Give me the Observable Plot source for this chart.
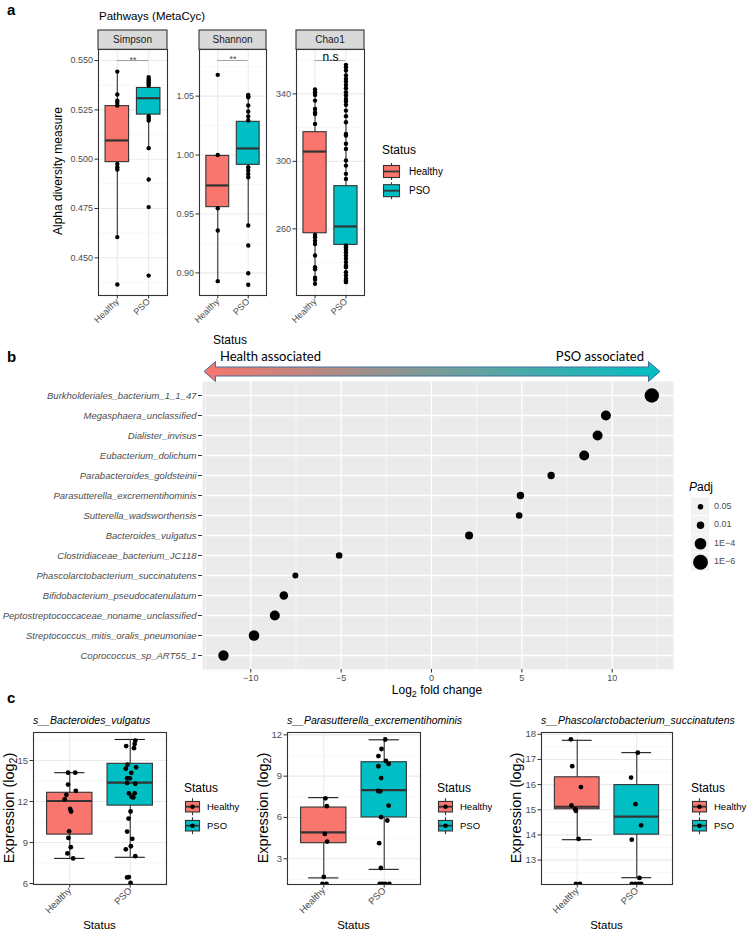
<!DOCTYPE html>
<html><head><meta charset="utf-8">
<script src="https://cdn.jsdelivr.net/npm/d3@7"></script>
<script src="https://cdn.jsdelivr.net/npm/@observablehq/plot@0.6"></script>
<style>
body{margin:0;background:#fff;}
#root{position:relative;width:747px;height:930px;overflow:hidden;background:#fff;}
svg{overflow:visible}
</style></head><body><div id="root"></div>
<script>
const statusCats = ["Healthy", "PSO"];
const statusColors = ["#F8766D", "#00BFC4"];

// ---------- Panel a (box stats: [lower whisker, Q1, median, Q3, upper whisker]) ----------
const simpsonBox = [[0.4605, 0.4985, 0.5095, 0.5269, 0.5444], [0.5056, 0.5226, 0.5309, 0.5361, 0.5416]];
const simpsonHealthy = [0.5444, 0.5328, 0.5297, 0.5286, 0.5272, 0.4976, 0.4959, 0.4948, 0.4605, 0.4365];
const simpsonPSO = [0.5416, 0.5407, 0.5399, 0.5390, 0.5382, 0.5374, 0.5218, 0.5208, 0.5196, 0.5056, 0.4897, 0.4757, 0.4410];
const simpsonTicks = [0.450, 0.475, 0.500, 0.525, 0.550];
const simpsonMinor = [0.4375, 0.4625, 0.4875, 0.5125, 0.5375];

const shannonBox = [[0.8930, 0.9558, 0.9742, 0.9993, 1.0000], [0.9402, 0.9917, 1.0056, 1.0282, 1.0511]];
const shannonHealthy = [1.0681, 1.0000, 0.9549, 0.9360, 0.8930];
const shannonPSO = [1.0511, 1.0500, 1.0490, 1.0421, 1.0370, 1.0327, 1.0293, 0.9897, 0.9870, 0.9840, 0.9812, 0.9402, 0.9232, 0.8997, 0.8899];
const shannonTicks = [0.90, 0.95, 1.00, 1.05];
const shannonMinor = [0.925, 0.975, 1.025, 1.075];

const chao1Box = [[227.4, 257.4, 305.8, 317.3, 342.6], [228.4, 250.5, 261.4, 285.3, 357.2]];
const chao1Healthy = [342.6, 341.0, 339.4, 336.0, 331.0, 329.0, 328.0, 322.2, 256.4, 255.0, 253.0, 251.0, 244.2, 237.3, 236.0, 231.0, 229.8, 227.4];
const chao1PSO = [357.2, 355.8, 353.8, 350.9, 348.9, 347.3, 345.3, 343.4, 341.0, 339.0, 337.0, 335.5, 333.5, 330.1, 326.8, 323.2, 316.3, 315.3, 310.4, 307.4, 300.5, 297.5, 292.6, 289.6, 250.1, 249.1, 247.8, 246.2, 244.2, 242.3, 240.3, 238.3, 237.3, 234.3, 232.3, 230.4, 229.4, 228.4];
const chao1Ticks = [260, 300, 340];
const chao1Minor = [240, 280, 320, 360];

const sigLabels = ["**", "**", "n.s"];
const sigLevels = [0.5500, 1.0803, 359.75];

// ---------- Panel b ----------
const species = ["Burkholderiales_bacterium_1_1_47", "Megasphaera_unclassified", "Dialister_invisus", "Eubacterium_dolichum", "Parabacteroides_goldsteinii", "Parasutterella_excrementihominis", "Sutterella_wadsworthensis", "Bacteroides_vulgatus", "Clostridiaceae_bacterium_JC118", "Phascolarctobacterium_succinatutens", "Bifidobacterium_pseudocatenulatum", "Peptostreptococcaceae_noname_unclassified", "Streptococcus_mitis_oralis_pneumoniae", "Coprococcus_sp_ART55_1"];
const log2FC = [12.19, 9.65, 9.19, 8.45, 6.62, 4.92, 4.85, 2.08, -5.11, -7.53, -8.17, -8.67, -9.82, -11.51];
const negLog10Padj = [5.7, 3.1, 3.1, 3.1, 1.97, 1.97, 1.66, 2.21, 1.66, 1.46, 2.46, 3.1, 3.42, 3.3];
const fcTicks = [-10, -5, 0, 5, 10];
const fcMinor = [-12.5, -7.5, -2.5, 2.5, 7.5, 12.5];
const padjBreaks = [1.301, 2, 4, 6];
const padjLabels = ["0.05", "0.01", "1E\u22124", "1E\u22126"];

// ---------- Panel c ----------
const bvBox = [[7.84, 9.58, 12.04, 12.64, 14.11], [7.92, 11.70, 13.39, 14.76, 16.54]];
const bvHealthy = [14.11, 14.11, 13.24, 12.78, 12.49, 12.16, 11.46, 11.27, 9.82, 9.34, 8.66, 8.20, 7.84];
const bvHealthyJit = [-0.028, 0.09, -0.028, 0.10, -0.056, -0.084, 0.006, 0.022, -0.011, -0.022, 0.017, -0.039, 0.056];
const bvPSO = [16.06, 16.2, 15.9, 16.45, 14.7, 14.4, 14.5, 13.7, 13.7, 14.1, 13.3, 13.35, 12.6, 12.6, 12.35, 12.3, 11.27, 10.75, 9.8, 9.27, 8.5, 8.73, 8.0, 6.47, 6.45, 6.04];
const bvPSOJit = [-0.067, 0.073, 0.062, 0.084, -0.045, -0.073, 0.096, -0.051, -0.006, 0.017, 0.084, -0.051, -0.022, 0.073, 0.022, 0.051, 0.006, -0.028, -0.051, 0.034, -0.073, 0.011, 0.084, -0.022, -0.051, 0.006];
const bvTicks = [6, 9, 12, 15];
const bvMinor = [7.5, 10.5, 13.5, 16.5];

const peBox = [[1.61, 4.13, 4.92, 6.72, 7.44], [2.23, 6.00, 7.99, 10.01, 11.64]];
const peHealthy = [7.39, 6.82, 4.8, 4.25, 1.68, 1.18, 1.18];
const peHealthyJit = [0.028, 0.051, 0.017, 0.056, 0, -0.022, 0.045];
const pePSO = [11.66, 10.97, 10.46, 10.1, 9.89, 9.72, 8.86, 7.92, 7.9, 6.86, 6.02, 5.78, 4.13, 2.33, 1.18, 1.18, 1.18, 1.18];
const pePSOJit = [0.017, -0.045, -0.096, 0.028, 0.073, -0.096, -0.051, -0.101, -0.067, 0.073, -0.051, 0.051, -0.084, -0.056, -0.073, -0.028, 0.017, 0.084];
const peTicks = [3, 6, 9, 12];
const peMinor = [1.5, 4.5, 7.5, 10.5];

const psBox = [[13.81, 15.02, 15.12, 16.29, 17.76], [12.30, 14.01, 14.73, 15.98, 17.27]];
const psHealthy = [17.8, 16.73, 15.9, 15.17, 15.02, 14.96, 13.84, 12.05, 12.05];
const psHealthyJit = [-0.107, -0.084, 0.062, -0.096, -0.034, -0.022, 0.022, -0.022, 0.045];
const psPSO = [17.27, 16.28, 15.22, 14.38, 13.81, 12.29, 12.05, 12.05, 12.05, 12.05];
const psPSOJit = [0.017, -0.096, -0.022, 0.073, -0.084, 0.045, -0.084, -0.028, 0.028, 0.073];
const psTicks = [13, 14, 15, 16, 17, 18];
const psMinor = [12.5, 13.5, 14.5, 15.5, 16.5, 17.5];

// ---------- drawing ----------
const FONT = "'Liberation Sans', Arial, Helvetica, sans-serif";
const root = document.getElementById("root");
function place(node, left, top) {
  node.style.position = "absolute";
  node.style.left = left + "px";
  node.style.top = top + "px";
  root.appendChild(node);
}

function boxPanel(o) {
  const boxes = o.box.map((b, i) => ({x: i + 1, lo: b[0], q1: b[1], med: b[2], q3: b[3], hi: b[4], status: statusCats[i]}));
  const pts = [
    ...o.h.map((v, i) => ({x: 1 + (o.jh ? o.jh[i] : 0), y: v})),
    ...o.p.map((v, i) => ({x: 2 + (o.jp ? o.jp[i] : 0), y: v}))
  ];
  const marks = [
    Plot.ruleY(o.minor, {stroke: "#F2F2F2", strokeWidth: 0.6}),
    Plot.ruleY(o.ticks, {stroke: "#EBEBEB", strokeWidth: 1.1}),
    Plot.ruleX([1, 2], {stroke: "#EBEBEB", strokeWidth: 1.1})
  ];
  if (o.caps) {
    marks.push(Plot.ruleY(boxes, {y: "lo", x1: d => d.x - 0.25, x2: d => d.x + 0.25, stroke: "#1a1a1a", strokeWidth: 1.1}));
    marks.push(Plot.ruleY(boxes, {y: "hi", x1: d => d.x - 0.25, x2: d => d.x + 0.25, stroke: "#1a1a1a", strokeWidth: 1.1}));
  }
  marks.push(
    Plot.ruleX(boxes, {x: "x", y1: "lo", y2: "hi", stroke: "#333", strokeWidth: 1.1}),
    Plot.rect(boxes, {x1: d => d.x - 0.375, x2: d => d.x + 0.375, y1: "q1", y2: "q3", fill: "status", stroke: "#333", strokeWidth: 1.1}),
    Plot.ruleY(boxes, {y: "med", x1: d => d.x - 0.375, x2: d => d.x + 0.375, stroke: "#333", strokeWidth: 2.2}),
    Plot.dot(pts, {x: "x", y: "y", r: o.r, fill: "black", clip: true})
  );
  if (o.sig) {
    marks.push(Plot.ruleY([o.sig.y], {x1: 1, x2: 2, stroke: "#8c8c8c", strokeWidth: 0.8}));
    marks.push(Plot.text([o.sig.label], {x: 1.5, y: o.sig.y, text: d => d, fontSize: o.sig.fs, fill: o.sig.color, lineAnchor: "bottom", dy: o.sig.dy}));
  }
  marks.push(
    Plot.frame({stroke: "#333", strokeWidth: 1.1}),
    Plot.axisY(o.ticks, {tickSize: 3.5, tickPadding: 2, fontSize: o.fs, stroke: "#333", fill: "#4D4D4D", tickFormat: o.fmt, label: null}),
    Plot.axisX([1, 2], {tickSize: 3.5, tickPadding: 1, tickRotate: -45, fontSize: o.fs, stroke: "#333", fill: "#4D4D4D", tickFormat: d => statusCats[d - 1], label: null})
  );
  const svg = Plot.plot({
    width: o.width, height: o.height,
    marginLeft: o.ml, marginRight: o.mr, marginTop: o.mt, marginBottom: o.mb,
    x: {domain: [0.4, 2.6]},
    y: {domain: o.domain},
    color: {domain: statusCats, range: statusColors},
    style: {fontFamily: FONT, background: "transparent", overflow: "visible"},
    marks
  });
  place(svg, o.left, o.top);
}

// Panel a facets
boxPanel({left: 0, top: 0, width: 170, height: 330, ml: 98, mr: 3, mt: 49, mb: 35,
  box: simpsonBox, h: simpsonHealthy, p: simpsonPSO, domain: [0.4309, 0.5556], ticks: simpsonTicks, minor: simpsonMinor,
  fmt: d3.format(".3f"), r: 2.2, fs: 9, sig: {y: sigLevels[0], label: sigLabels[0], fs: 9, color: "#4D4D4D", dy: 2}});
boxPanel({left: 170, top: 0, width: 100, height: 330, ml: 29, mr: 4, mt: 49, mb: 35,
  box: shannonBox, h: shannonHealthy, p: shannonPSO, domain: [0.8808, 1.0896], ticks: shannonTicks, minor: shannonMinor,
  fmt: d3.format(".2f"), r: 2.2, fs: 9, sig: {y: sigLevels[1], label: sigLabels[1], fs: 9, color: "#4D4D4D", dy: 2}});
boxPanel({left: 270, top: 0, width: 100, height: 330, ml: 26, mr: 6, mt: 49, mb: 35,
  box: chao1Box, h: chao1Healthy, p: chao1PSO, domain: [220.5, 366.3], ticks: chao1Ticks, minor: chao1Minor,
  fmt: d3.format("d"), r: 2.2, fs: 9, sig: {y: sigLevels[2], label: sigLabels[2], fs: 12, color: "#000", dy: 0}});

// Panel b
const rScale = {type: "sqrt", domain: [1.2, 6.2], range: [2.6, 7.6]};
const rows = species.map((s, i) => ({sp: s, fc: log2FC[i], p: negLog10Padj[i]}));
const pb = Plot.plot({
  width: 747, height: 324, marginLeft: 202, marginRight: 74, marginTop: 6, marginBottom: 30,
  x: {domain: [-12.67, 13.39]},
  y: {type: "point", domain: species, padding: 0.6},
  r: rScale,
  style: {fontFamily: FONT, background: "transparent", overflow: "visible"},
  marks: [
    Plot.frame({fill: "#EBEBEB", stroke: "none"}),
    Plot.ruleX(fcMinor, {stroke: "white", strokeWidth: 0.6}),
    Plot.ruleX(fcTicks, {stroke: "white", strokeWidth: 1.3}),
    Plot.ruleY(species, {y: d => d, stroke: "white", strokeWidth: 1.3}),
    Plot.dot(rows, {x: "fc", y: "sp", r: "p", fill: "black"}),
    Plot.axisY({tickSize: 4, tickPadding: 2, fontSize: 9.5, fontStyle: "italic", stroke: "#333", fill: "#4D4D4D", label: null}),
    Plot.axisX(fcTicks, {tickSize: 3.5, tickPadding: 1.5, fontSize: 9, stroke: "#333", fill: "#4D4D4D", label: null,
      tickFormat: d => d < 0 ? "\u2212" + (-d) : String(d)})
  ]
});
place(pb, 0, 375);

// Padj legend dots through the same r scale (top to bottom: 0.05, 0.01, 1E-4, 1E-6)
const legendRows = padjBreaks.map((v, i) => ({v, i}));
const pl = Plot.plot({
  width: 20, height: 74, margin: 0,
  x: {domain: [0, 1], axis: null},
  y: {domain: [0, 4], reverse: true, axis: null},
  r: rScale,
  style: {background: "transparent", overflow: "visible"},
  marks: [
    Plot.rect(legendRows, {x1: 0.05, x2: 0.95, y1: d => d.i + 0.02, y2: d => d.i + 0.98, fill: "#F2F2F2"}),
    Plot.dot(legendRows, {x: 0.5, y: d => d.i + 0.5, r: "v", fill: "black"})
  ]
});
place(pl, 689.5, 496.5);

// Panel c
boxPanel({left: 0, top: 724, width: 170, height: 190, ml: 33, mr: 4, mt: 8, mb: 30,
  box: bvBox, h: bvHealthy, p: bvPSO, jh: bvHealthyJit, jp: bvPSOJit, domain: [5.93, 17.05],
  ticks: bvTicks, minor: bvMinor, fmt: d3.format("d"), r: 2.4, fs: 9.5, caps: true});
boxPanel({left: 250, top: 724, width: 175, height: 190, ml: 37, mr: 5, mt: 8, mb: 30,
  box: peBox, h: peHealthy, p: pePSO, jh: peHealthyJit, jp: pePSOJit, domain: [1.13, 12.17],
  ticks: peTicks, minor: peMinor, fmt: d3.format("d"), r: 2.4, fs: 9.5, caps: true});
boxPanel({left: 500, top: 724, width: 177, height: 190, ml: 41, mr: 5, mt: 8, mb: 30,
  box: psBox, h: psHealthy, p: psPSO, jh: psHealthyJit, jp: psPSOJit, domain: [12.03, 18.07],
  ticks: psTicks, minor: psMinor, fmt: d3.format("d"), r: 2.4, fs: 9.5, caps: true});

// ---------- overlay annotations ----------
let s = `<svg xmlns="http://www.w3.org/2000/svg" width="747" height="930" font-family="${FONT}">`;
s += `<defs><linearGradient id="arr" gradientUnits="userSpaceOnUse" x1="204" y1="0" x2="660" y2="0">
<stop offset="0" stop-color="${statusColors[0]}"/><stop offset="1" stop-color="${statusColors[1]}"/></linearGradient></defs>`;
// letters
s += `<text x="7" y="15" font-size="15" font-weight="bold">a</text>`;
s += `<text x="7" y="362" font-size="15" font-weight="bold">b</text>`;
s += `<text x="7" y="703" font-size="15" font-weight="bold">c</text>`;
// panel a
s += `<text x="99" y="20" font-size="11.5" fill="#000">Pathways (MetaCyc)</text>`;
[[98, 167, "Simpson"], [199, 266, "Shannon"], [296, 364, "Chao1"]].forEach(([a, b, t]) => {
  s += `<rect x="${a}" y="30" width="${b - a}" height="19.3" fill="#D9D9D9" stroke="#333" stroke-width="1.1"/>`;
  s += `<text x="${(a + b) / 2}" y="43" font-size="10" text-anchor="middle" fill="#1A1A1A">${t}</text>`;
});
s += `<text transform="translate(62,171) rotate(-90)" font-size="12" text-anchor="middle">Alpha diversity measure</text>`;

function statusLegend(x, yTitle, yKeys, withDot, w, h, labDx, labFs) {
  let out = `<text x="${x}" y="${yTitle}" font-size="12">Status</text>`;
  yKeys.forEach((cy, i) => {
    const kx = x + 1.5, cx = kx + w / 2;
    out += `<line x1="${cx}" x2="${cx}" y1="${cy - 8.5}" y2="${cy + 8.5}" stroke="#333" stroke-width="1.1"/>`;
    out += `<rect x="${kx}" y="${cy - h / 2}" width="${w}" height="${h}" fill="${statusColors[i]}" stroke="#333" stroke-width="1.1"/>`;
    out += `<line x1="${kx}" x2="${kx + w}" y1="${cy}" y2="${cy}" stroke="#333" stroke-width="1.8"/>`;
    if (withDot) out += `<circle cx="${cx}" cy="${cy}" r="2.3" fill="black"/>`;
    out += `<text x="${x + labDx}" y="${cy + 3.4}" font-size="${labFs}" fill="#000">${statusCats[i]}</text>`;
  });
  return out;
}
s += statusLegend(382, 154, [171.5, 190.7], false, 16, 12, 27, 10);

// panel b
s += `<text x="213" y="344" font-size="12">Status</text>`;
s += `<path d="M204,371.5 L215.5,361.5 L215.5,367 L648.5,367 L648.5,361.5 L660,371.5 L648.5,381.5 L648.5,376 L215.5,376 L215.5,381.5 Z" fill="url(#arr)" stroke="#41719C" stroke-width="1"/>`;
s += `<text x="220" y="361" font-size="13" font-family="Lato, 'Open Sans', sans-serif" fill="#000">Health associated</text>`;
s += `<text x="644" y="361" font-size="13" text-anchor="end" font-family="Lato, 'Open Sans', sans-serif" fill="#000">PSO associated</text>`;
s += `<text x="437" y="694" font-size="12" text-anchor="middle">Log<tspan font-size="9" dy="3">2</tspan><tspan dy="-3"> fold change</tspan></text>`;
s += `<text x="689" y="491" font-size="12"><tspan font-style="italic">P</tspan>adj</text>`;
padjLabels.forEach((t, i) => {
  s += `<text x="714" y="${505.75 + i * 18.5 + 3.2}" font-size="9" fill="#4D4D4D">${t}</text>`;
});

// panel c
[[33, "s__Bacteroides_vulgatus"], [287, "s__Parasutterella_excrementihominis"], [541, "s__Phascolarctobacterium_succinatutens"]].forEach(([x, t]) => {
  s += `<text x="${x}" y="724" font-size="10.5" font-style="italic" fill="#000">${t}</text>`;
});
[[14, 808], [268, 808], [521, 808]].forEach(([x, y]) => {
  s += `<text transform="translate(${x},${y}) rotate(-90)" font-size="14.5" text-anchor="middle">Expression (log<tspan font-size="10.5" dy="3">2</tspan><tspan dy="-3">)</tspan></text>`;
});
[[99.5], [353.5], [606.5]].forEach(([x]) => {
  s += `<text x="${x}" y="929" font-size="11.5" text-anchor="middle">Status</text>`;
});
s += statusLegend(184, 791.5, [806.7, 825.7], true, 14, 10.5, 23, 9.5);
s += statusLegend(437, 791.5, [806.7, 825.7], true, 14, 10.5, 23, 9.5);
s += statusLegend(691, 791.5, [806.7, 825.7], true, 14, 10.5, 23, 9.5);
s += `</svg>`;

const ov = document.createElement("div");
ov.style.pointerEvents = "none";
ov.innerHTML = s;
place(ov, 0, 0);
</script></body></html>
